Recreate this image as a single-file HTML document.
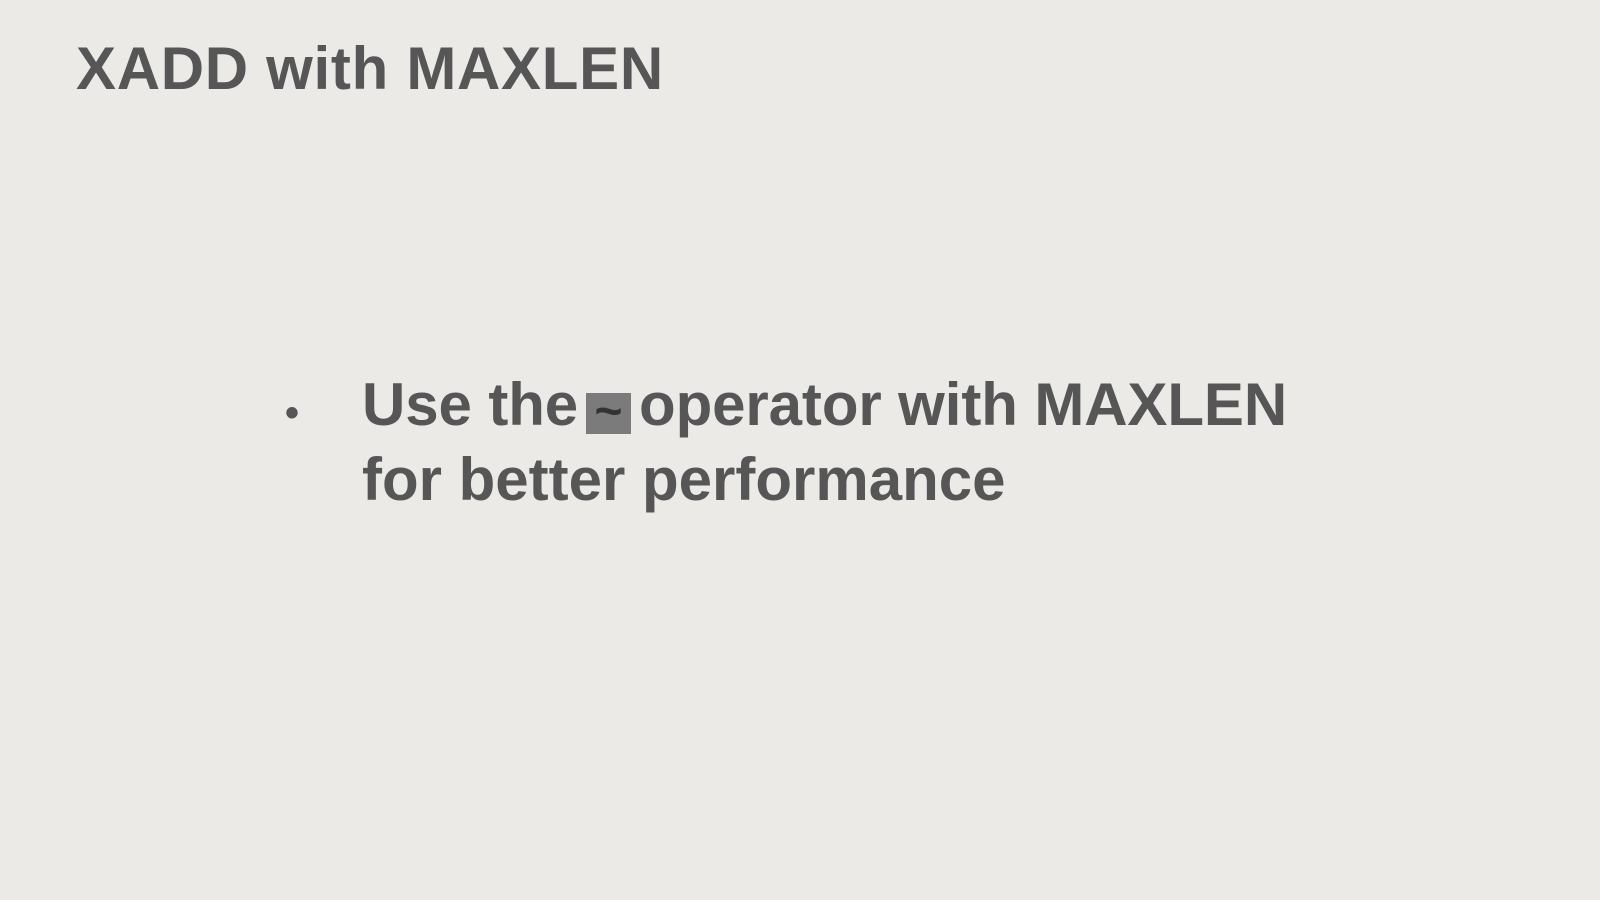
<!DOCTYPE html>
<html><head><meta charset="utf-8"><style>
html,body{margin:0;padding:0}
body{width:1600px;height:900px;background:#ebeae6;position:relative;overflow:hidden;font-family:"Liberation Sans",sans-serif;color:#565656;font-weight:bold}
.t{position:absolute;white-space:nowrap;line-height:1}
</style></head><body>
<div class="t" style="left:76px;top:39px;font-size:60px;letter-spacing:0.7px">XADD with MAXLEN</div>
<div class="t" style="left:285px;top:393px;font-size:40px">•</div>
<div class="t" style="left:362px;top:375px;font-size:60px;letter-spacing:-0.1px">Use the<span style="display:inline-block;width:45px;height:41px;background:#7b7b7b;color:#333;vertical-align:-2px;margin:0 8px 0 8px;text-align:center;font-size:48px;line-height:38px;letter-spacing:0">~</span>operator with MAXLEN</div>
<div class="t" style="left:362px;top:450px;font-size:60px;letter-spacing:0px">for better performance</div>
</body></html>
